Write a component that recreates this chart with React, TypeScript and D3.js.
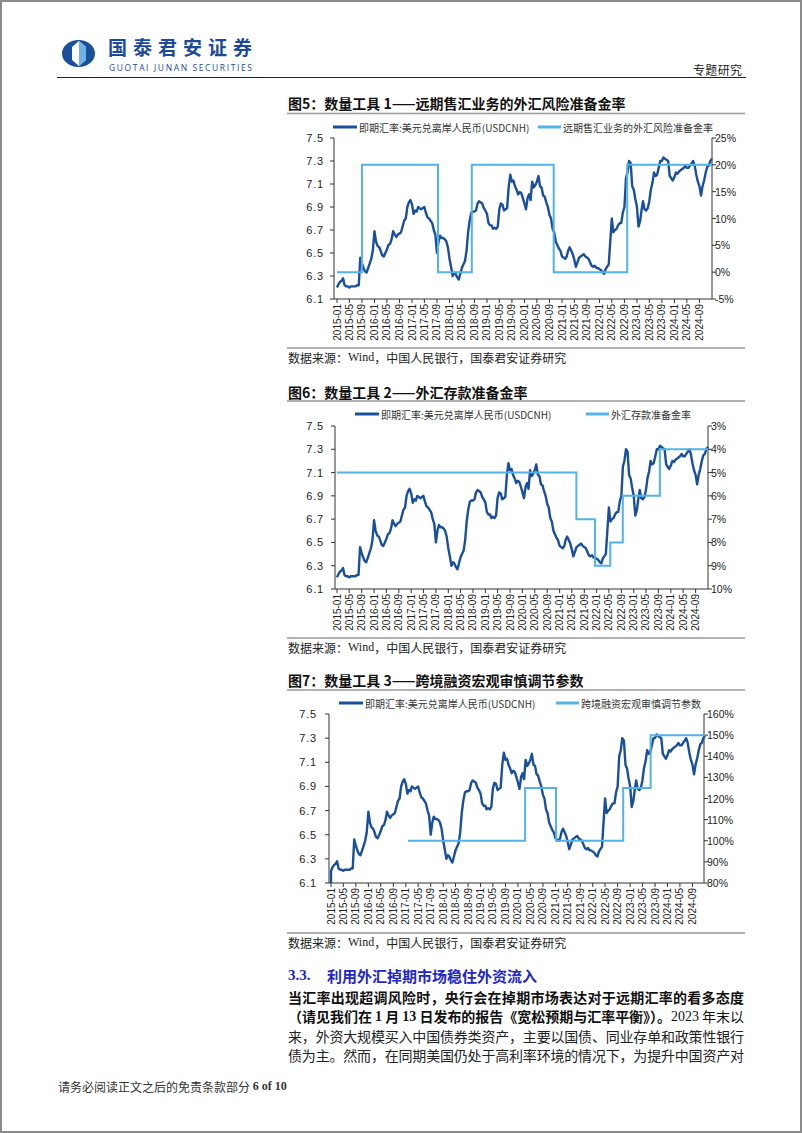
import * as d3 from 'd3';

// USDCNH at the 1st and 16th of every month
const cnh2015 = [6.2, 6.23, 6.25, 6.26, 6.28, 6.22, 6.21, 6.21, 6.2, 6.21, 6.21, 6.21, 6.21, 6.22, 6.22, 6.46, 6.41, 6.37, 6.34, 6.33, 6.37, 6.41, 6.45, 6.52];
const cnh2016 = [6.69, 6.6, 6.56, 6.55, 6.52, 6.48, 6.47, 6.5, 6.53, 6.57, 6.58, 6.62, 6.69, 6.66, 6.64, 6.66, 6.67, 6.68, 6.73, 6.78, 6.8, 6.9, 6.94, 6.96];
const cnh2017 = [6.92, 6.84, 6.87, 6.86, 6.9, 6.89, 6.88, 6.89, 6.9, 6.85, 6.81, 6.8, 6.78, 6.76, 6.7, 6.66, 6.5, 6.6, 6.65, 6.63, 6.63, 6.62, 6.6, 6.55];
const cnh2018 = [6.45, 6.38, 6.3, 6.33, 6.32, 6.29, 6.27, 6.32, 6.37, 6.4, 6.43, 6.52, 6.68, 6.78, 6.85, 6.86, 6.86, 6.87, 6.93, 6.95, 6.94, 6.93, 6.89, 6.87];
const cnh2019 = [6.84, 6.76, 6.74, 6.74, 6.71, 6.72, 6.71, 6.73, 6.88, 6.93, 6.92, 6.87, 6.88, 6.89, 7.08, 7.18, 7.12, 7.13, 7.08, 7.05, 7.01, 7.03, 7.02, 6.98];
const cnh2020 = [6.93, 6.88, 6.98, 7.01, 6.96, 7.12, 7.07, 7.09, 7.12, 7.17, 7.08, 7.07, 7.0, 6.99, 6.94, 6.9, 6.83, 6.8, 6.71, 6.68, 6.6, 6.57, 6.54, 6.52];
const cnh2021 = [6.47, 6.46, 6.45, 6.47, 6.52, 6.55, 6.52, 6.49, 6.44, 6.38, 6.42, 6.46, 6.47, 6.48, 6.49, 6.47, 6.46, 6.45, 6.42, 6.39, 6.38, 6.39, 6.37, 6.37];
const cnh2022 = [6.36, 6.35, 6.33, 6.32, 6.36, 6.38, 6.4, 6.6, 6.8, 6.68, 6.7, 6.71, 6.74, 6.76, 6.76, 6.85, 6.9, 7.15, 7.2, 7.3, 7.28, 7.08, 7.05, 6.97];
const cnh2023 = [6.9, 6.73, 6.78, 6.88, 6.95, 6.88, 6.87, 6.89, 6.95, 7.05, 7.11, 7.2, 7.17, 7.18, 7.24, 7.3, 7.3, 7.33, 7.32, 7.31, 7.3, 7.17, 7.15, 7.13];
const cnh2024 = [7.16, 7.2, 7.19, 7.21, 7.22, 7.23, 7.24, 7.26, 7.24, 7.24, 7.26, 7.28, 7.3, 7.26, 7.18, 7.12, 7.08, 7.0, 7.08, 7.13, 7.2, 7.25, 7.26, 7.3];
const cnhLast = 7.32; // 2025-01
const cnhFig7Lead = 6.1; // first print in fig 7 drops to the axis

const xTickLabels = [
  '2015-01', '2015-05', '2015-09', '2016-01', '2016-05', '2016-09', '2017-01', '2017-05', '2017-09', '2018-01',
  '2018-05', '2018-09', '2019-01', '2019-05', '2019-09', '2020-01', '2020-05', '2020-09', '2021-01', '2021-05',
  '2021-09', '2022-01', '2022-05', '2022-09', '2023-01', '2023-05', '2023-09', '2024-01', '2024-05', '2024-09',
];
const cnhTicks = [6.1, 6.3, 6.5, 6.7, 6.9, 7.1, 7.3, 7.5];

const fxRiskDates = ['2015-01-01', '2015-09-01', '2017-09-11', '2018-08-06', '2020-10-12', '2022-09-28', '2025-01-01'];
const fxRiskValues = [0, 20, 0, 20, 0, 20, 20];
const fxRiskTicks = [-5, 0, 5, 10, 15, 20, 25];

const depositDates = ['2015-01-01', '2021-06-15', '2021-12-15', '2022-05-15', '2022-09-15', '2023-09-15', '2025-01-01'];
const depositValues = [5, 7, 9, 8, 6, 4, 4];
const depositTicks = [3, 4, 5, 6, 7, 8, 9, 10];

const macroDates = ['2017-01-22', '2020-03-11', '2021-01-07', '2022-10-25', '2023-07-20', '2025-01-01'];
const macroValues = [100, 125, 100, 125, 150, 150];
const macroTicks = [80, 90, 100, 110, 120, 130, 140, 150, 160];

const DARK = '#1a4f9c';
const LIGHT = '#52b3e8';
const CJK = '"Noto Sans CJK SC", sans-serif';
const SANS = '"Liberation Sans", Arial, sans-serif';
const SERIF = '"Liberation Serif", "Noto Sans CJK SC", serif';

type Pt = { date: Date; value: number };

const parse = d3.timeParse('%Y-%m-%d');
const parseMonth = d3.timeParse('%Y-%m');

const cnh: Pt[] = [];
[cnh2015, cnh2016, cnh2017, cnh2018, cnh2019, cnh2020, cnh2021, cnh2022, cnh2023, cnh2024].forEach((vals, yi) => {
  vals.forEach((v, i) => {
    cnh.push({ date: new Date(2015 + yi, Math.floor(i / 2), i % 2 ? 16 : 1), value: v });
  });
});
cnh.push({ date: new Date(2025, 0, 1), value: cnhLast });

const steps = (dates: string[], values: number[]): Pt[] =>
  dates.map((d, i) => ({ date: parse(d) as Date, value: values[i] }));

type ChartCfg = {
  title: string;
  titleY: number;
  ruleY: number;
  legendY: number;
  darkLeg: number;
  lightLeg: number;
  lightLabel: string;
  left: number;
  right: number;
  top: number;
  bottom: number;
  xRange: [number, number];
  rightDomain: [number, number];
  rightTicks: number[];
  rightFmt: (v: number) => string;
  leftLabelX: number;
  cnhData: Pt[];
  stepData: Pt[];
  srcRuleY: number;
  srcY: number;
};

function Chart({ c }: { c: ChartCfg }) {
  const x = d3.scaleTime().domain([new Date(2015, 0, 1), new Date(2025, 0, 1)]).range(c.xRange);
  const yL = d3.scaleLinear().domain([6.1, 7.5]).range([c.bottom, c.top]);
  const yR = d3.scaleLinear().domain(c.rightDomain).range([c.bottom, c.top]);
  const darkLine = d3.line<Pt>().x((d) => x(d.date)).y((d) => yL(d.value));
  const stepLine = d3.line<Pt>().x((d) => x(d.date)).y((d) => yR(d.value)).curve(d3.curveStepAfter);

  return (
    <g>
      <text x={288} y={c.titleY} dominantBaseline="central" fontFamily={CJK} fontWeight="bold" fontSize={14} fill="#111">
        {c.title}
      </text>
      <line x1={287} x2={745} y1={c.ruleY} y2={c.ruleY} stroke="#999" strokeWidth={1.5} />

      {/* legend */}
      <line x1={c.darkLeg} x2={c.darkLeg + 24} y1={c.legendY} y2={c.legendY} stroke={DARK} strokeWidth={3} />
      <text x={c.darkLeg + 26} y={c.legendY} dominantBaseline="central" fontFamily={CJK} fontSize={10} fill="#333">
        即期汇率:美元兑离岸人民币(USDCNH)
      </text>
      <line x1={c.lightLeg} x2={c.lightLeg + 23} y1={c.legendY} y2={c.legendY} stroke={LIGHT} strokeWidth={3} />
      <text x={c.lightLeg + 25} y={c.legendY} dominantBaseline="central" fontFamily={CJK} fontSize={10} fill="#333">
        {c.lightLabel}
      </text>

      {/* axes */}
      <g stroke="#333" strokeWidth={1}>
        <line x1={c.left} x2={c.left} y1={c.top} y2={c.bottom} />
        <line x1={c.right} x2={c.right} y1={c.top} y2={c.bottom} />
        <line x1={c.left} x2={c.right} y1={c.bottom} y2={c.bottom} />
        {cnhTicks.map((t) => (
          <line key={'l' + t} x1={c.left - 4} x2={c.left} y1={yL(t)} y2={yL(t)} />
        ))}
        {c.rightTicks.map((t) => (
          <line key={'r' + t} x1={c.right} x2={c.right + 4} y1={yR(t)} y2={yR(t)} />
        ))}
        {xTickLabels.map((t) => {
          const px = x(parseMonth(t) as Date);
          return <line key={'x' + t} x1={px} x2={px} y1={c.bottom} y2={c.bottom + 4} />;
        })}
      </g>
      {cnhTicks.map((t) => (
        <text key={'lt' + t} x={c.leftLabelX} y={yL(t)} textAnchor="end" dominantBaseline="central" fontFamily={SANS} fontSize={11} letterSpacing={0.8} fill="#222">
          {t.toFixed(1)}
        </text>
      ))}
      {c.rightTicks.map((t) => (
        <text key={'rt' + t} x={c.right + 3} y={yR(t)} dominantBaseline="central" fontFamily={SANS} fontSize={10.5} fill="#222">
          {c.rightFmt(t)}
        </text>
      ))}
      {xTickLabels.map((t) => {
        const px = x(parseMonth(t) as Date);
        const py = c.bottom + 5;
        return (
          <text key={'xt' + t} x={px} y={py} transform={`rotate(-90 ${px} ${py})`} textAnchor="end" dominantBaseline="central" fontFamily={SANS} fontSize={10} fill="#222">
            {t}
          </text>
        );
      })}

      <path d={darkLine(c.cnhData) || ''} fill="none" stroke={DARK} strokeWidth={2.4} strokeLinejoin="round" />
      <path d={stepLine(c.stepData) || ''} fill="none" stroke={LIGHT} strokeWidth={2} />

      <line x1={287} x2={745} y1={c.srcRuleY} y2={c.srcRuleY} stroke="#999" strokeWidth={1.5} />
      <text x={288} y={c.srcY} dominantBaseline="central" fontFamily={CJK} fontSize={12} fill="#222">
        数据来源：<tspan fontFamily={SERIF}>Wind</tspan>，中国人民银行，国泰君安证券研究
      </text>
    </g>
  );
}

const pct = (v: number) => `${v}%`;

const charts: ChartCfg[] = [
  {
    title: '图5：数量工具 1——远期售汇业务的外汇风险准备金率',
    titleY: 103, ruleY: 113.5, legendY: 127, darkLeg: 333, lightLeg: 538,
    lightLabel: '远期售汇业务的外汇风险准备金率',
    left: 334, right: 712, top: 138, bottom: 299, xRange: [337, 712],
    rightDomain: [-5, 25], rightTicks: fxRiskTicks, rightFmt: pct, leftLabelX: 324,
    cnhData: cnh, stepData: steps(fxRiskDates, fxRiskValues), srcRuleY: 348, srcY: 357,
  },
  {
    title: '图6：数量工具 2——外汇存款准备金率',
    titleY: 392, ruleY: 401, legendY: 414, darkLeg: 355, lightLeg: 586,
    lightLabel: '外汇存款准备金率',
    left: 335, right: 708, top: 426, bottom: 589, xRange: [337, 708],
    rightDomain: [10, 3], rightTicks: depositTicks, rightFmt: pct, leftLabelX: 324,
    cnhData: cnh, stepData: steps(depositDates, depositValues), srcRuleY: 638, srcY: 647,
  },
  {
    title: '图7：数量工具 3——跨境融资宏观审慎调节参数',
    titleY: 680, ruleY: 690, legendY: 703, darkLeg: 339, lightLeg: 556,
    lightLabel: '跨境融资宏观审慎调节参数',
    left: 329, right: 704, top: 714, bottom: 883, xRange: [331, 705],
    rightDomain: [80, 160], rightTicks: macroTicks, rightFmt: pct, leftLabelX: 317,
    cnhData: [{ date: new Date(2015, 0, 1), value: cnhFig7Lead }, ...cnh],
    stepData: steps(macroDates, macroValues), srcRuleY: 933, srcY: 942,
  },
];

export default function App() {
  return (
    <svg width={802} height={1133} style={{ position: 'absolute', left: 0, top: 0, background: '#fff' }}>
      <rect x={1} y={1} width={800} height={1131} fill="#fff" stroke="#8a8a8a" strokeWidth={2} />

      {/* header */}
      <g>
        <ellipse cx={78.5} cy={53.5} rx={16.5} ry={13.5} fill={DARK} />
        <path d="M79 41 L86 47 L86 60 L79 66 L72 60 L72 47 Z" fill="#fff" />
        <path d="M79 41 L86 47 L86 60 L79 66 Z" fill="#6db3e3" />
        <text x={108} y={46.5} dominantBaseline="central" fontFamily={CJK} fontWeight="bold" fontSize={19} fill="#1d4a98" textLength={144} lengthAdjust="spacing">
          国泰君安证券
        </text>
        <text x={109} y={67} dominantBaseline="central" fontFamily={'"Open Sans", sans-serif'} fontSize={8.5} fill="#1d4a98" textLength={143}>
          GUOTAI JUNAN SECURITIES
        </text>
        <text x={693} y={69} dominantBaseline="central" fontFamily={CJK} fontSize={12} fill="#222" textLength={49}>
          专题研究
        </text>
        <line x1={57} x2={746} y1={77.5} y2={77.5} stroke="#222" strokeWidth={1.2} />
      </g>

      {charts.map((c) => (
        <Chart key={c.title} c={c} />
      ))}

      {/* section text */}
      <text x={288} y={975} dominantBaseline="central" fontFamily={CJK} fontWeight="bold" fontSize={15} fill="#2228c0">
        <tspan fontFamily={SERIF}>3.3.</tspan>
        <tspan x={327}>利用外汇掉期市场稳住外资流入</tspan>
      </text>
      <text x={288} y={997} dominantBaseline="central" fontFamily={CJK} fontWeight="bold" fontSize={14} fill="#111" textLength={456} lengthAdjust="spacing">
        当汇率出现超调风险时，央行会在掉期市场表达对于远期汇率的看多态度
      </text>
      <text x={288} y={1016} dominantBaseline="central" fontFamily={CJK} fontSize={14} fill="#111" textLength={456} lengthAdjust="spacing">
        <tspan fontWeight="bold">（请见我们在 <tspan fontFamily={SERIF}>1</tspan> 月 <tspan fontFamily={SERIF}>13</tspan> 日发布的报告《宽松预期与汇率平衡》）。</tspan>
        <tspan fontFamily={SERIF}>2023</tspan> 年末以
      </text>
      <text x={288} y={1036} dominantBaseline="central" fontFamily={CJK} fontSize={14} fill="#222" textLength={456} lengthAdjust="spacing">
        来，外资大规模买入中国债券类资产，主要以国债、同业存单和政策性银行
      </text>
      <text x={288} y={1055} dominantBaseline="central" fontFamily={CJK} fontSize={14} fill="#222" textLength={456} lengthAdjust="spacing">
        债为主。然而，在同期美国仍处于高利率环境的情况下，为提升中国资产对
      </text>

      <text x={58} y={1086} dominantBaseline="central" fontFamily={CJK} fontSize={12} fill="#333">
        请务必阅读正文之后的免责条款部分 <tspan fontFamily={SERIF} fontWeight="bold">6 of 10</tspan>
      </text>
    </svg>
  );
}
